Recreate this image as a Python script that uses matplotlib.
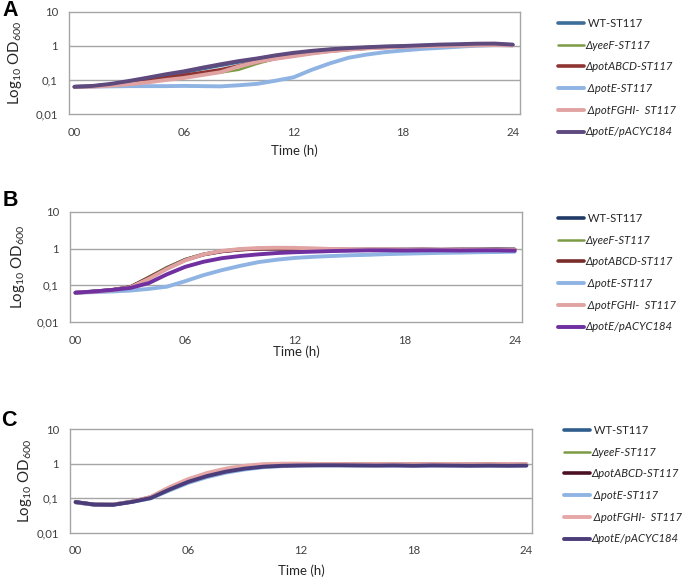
#!/usr/bin/env python3

from matplotlib import pyplot as plt

plt.rcParams['font.family'] = ['Lato', 'DejaVu Sans']
plt.rcParams['mathtext.fontset'] = 'custom'
plt.rcParams['mathtext.rm'] = 'Lato'

hours = list(range(25))
tick_hours = [0, 6, 12, 18, 24]
tick_labels = ['00', '06', '12', '18', '24']
od_ticks = [0.01, 0.1, 1, 10]
od_labels = ['0,01', '0,1', '1', '10']

strains = [' WT-ST117', '\u0394yeeF-ST117', '\u0394potABCD-ST117',
           ' \u0394potE-ST117', ' \u0394potFGHI-  ST117', '\u0394potE/pACYC184']

# panel A
a_wt = [0.063, 0.066, 0.074, 0.088, 0.108, 0.135, 0.17, 0.215, 0.27, 0.34, 0.42, 0.51, 0.6,
        0.7, 0.78, 0.85, 0.9, 0.95, 0.98, 1.02, 1.05, 1.08, 1.1, 1.12, 1.08]
a_yeef = [0.063, 0.065, 0.07, 0.08, 0.095, 0.112, 0.13, 0.15, 0.165, 0.2, 0.3, 0.42, 0.55,
          0.65, 0.75, 0.82, 0.88, 0.93, 0.97, 1.0, 1.03, 1.06, 1.08, 1.1, 1.06]
a_abcd = [0.063, 0.065, 0.071, 0.082, 0.097, 0.116, 0.138, 0.165, 0.2, 0.26, 0.34, 0.43, 0.52,
          0.62, 0.71, 0.79, 0.86, 0.91, 0.95, 0.99, 1.02, 1.05, 1.07, 1.09, 1.05]
a_pote = [0.064, 0.064, 0.065, 0.066, 0.066, 0.066, 0.067, 0.066, 0.065, 0.07, 0.077, 0.095, 0.12,
          0.2, 0.31, 0.45, 0.56, 0.66, 0.74, 0.82, 0.88, 0.95, 1.02, 1.06, 1.05]
a_fghi = [0.063, 0.064, 0.068, 0.075, 0.085, 0.1, 0.115, 0.14, 0.17, 0.25, 0.34, 0.42, 0.5,
          0.6, 0.7, 0.78, 0.85, 0.9, 0.95, 0.98, 1.0, 1.02, 1.05, 1.07, 1.05]
a_pacyc = [0.063, 0.067, 0.077, 0.094, 0.117, 0.147, 0.18, 0.23, 0.29, 0.36, 0.43, 0.53, 0.63,
           0.72, 0.8, 0.87, 0.92, 0.97, 1.0, 1.05, 1.1, 1.13, 1.17, 1.18, 1.1]

# panel B
b_wt = [0.063, 0.068, 0.075, 0.09, 0.16, 0.3, 0.5, 0.7, 0.85, 0.95, 1.0, 1.0, 0.98,
        0.96, 0.95, 0.94, 0.95, 0.94, 0.95, 0.95, 0.94, 0.95, 0.95, 0.96, 0.95]
b_yeef = [0.063, 0.068, 0.076, 0.092, 0.17, 0.31, 0.52, 0.72, 0.87, 0.96, 1.0, 1.01, 0.99,
          0.96, 0.95, 0.95, 0.94, 0.95, 0.95, 0.94, 0.95, 0.95, 0.96, 0.95, 0.96]
b_abcd = [0.063, 0.068, 0.075, 0.09, 0.16, 0.29, 0.49, 0.69, 0.84, 0.94, 0.99, 1.0, 0.98,
          0.96, 0.95, 0.94, 0.94, 0.95, 0.94, 0.95, 0.94, 0.95, 0.95, 0.95, 0.95]
b_pote = [0.063, 0.065, 0.068, 0.072, 0.08, 0.092, 0.13, 0.19, 0.26, 0.34, 0.43, 0.5, 0.56,
          0.6, 0.63, 0.66, 0.68, 0.71, 0.73, 0.75, 0.77, 0.78, 0.8, 0.81, 0.83]
b_fghi = [0.063, 0.067, 0.074, 0.088, 0.15, 0.28, 0.48, 0.7, 0.87, 0.98, 1.04, 1.06, 1.05,
          1.02, 0.98, 0.96, 0.95, 0.95, 0.94, 0.94, 0.93, 0.93, 0.93, 0.92, 0.92]
b_pacyc = [0.063, 0.068, 0.075, 0.085, 0.115, 0.2, 0.32, 0.44, 0.55, 0.63, 0.7, 0.76, 0.8,
           0.83, 0.86, 0.88, 0.9, 0.9, 0.89, 0.9, 0.9, 0.89, 0.9, 0.9, 0.88]

# panel C
c_wt = [0.078, 0.066, 0.066, 0.08, 0.105, 0.19, 0.32, 0.48, 0.64, 0.78, 0.88, 0.93, 0.94,
        0.93, 0.92, 0.92, 0.91, 0.92, 0.9, 0.92, 0.91, 0.9, 0.91, 0.9, 0.91]
c_yeef = [0.078, 0.067, 0.067, 0.081, 0.11, 0.21, 0.36, 0.54, 0.72, 0.86, 0.96, 1.0, 1.0,
          0.99, 1.0, 0.98, 1.0, 0.99, 0.99, 0.98, 1.0, 0.99, 1.0, 1.0, 0.99]
c_abcd = [0.078, 0.066, 0.066, 0.08, 0.108, 0.2, 0.34, 0.51, 0.68, 0.82, 0.92, 0.96, 0.97,
          0.96, 0.96, 0.95, 0.96, 0.95, 0.95, 0.96, 0.95, 0.95, 0.96, 0.95, 0.95]
c_pote = [0.076, 0.065, 0.066, 0.079, 0.1, 0.17, 0.28, 0.41, 0.55, 0.68, 0.79, 0.85, 0.88,
          0.89, 0.89, 0.88, 0.89, 0.88, 0.89, 0.88, 0.89, 0.89, 0.88, 0.89, 0.89]
c_fghi = [0.077, 0.066, 0.067, 0.081, 0.11, 0.21, 0.36, 0.54, 0.72, 0.87, 0.97, 1.0, 1.0,
          0.98, 0.98, 0.97, 0.98, 0.97, 0.97, 0.97, 0.98, 0.97, 0.97, 0.98, 0.97]
c_pacyc = [0.078, 0.066, 0.065, 0.079, 0.102, 0.18, 0.3, 0.44, 0.59, 0.72, 0.82, 0.87, 0.89,
           0.9, 0.9, 0.89, 0.88, 0.89, 0.87, 0.89, 0.88, 0.87, 0.88, 0.87, 0.88]

colors_a = ['#3d6d99', '#7d9a44', '#8e3433', '#8fb4e3', '#e0a3a2', '#5f4a7e']
colors_b = ['#1f3a66', '#7d9a44', '#7a2c2a', '#8fb4e3', '#e0a3a2', '#7030a0']
colors_c = ['#2f5d8c', '#7d9a44', '#4a1024', '#8fb4e3', '#e6a8a6', '#4b3c7a']
widths = [2.6, 1.8, 2.6, 2.8, 2.8, 2.8]


def plot_panel(fig, rect, letter, letter_xy, series, colors, legend_xy, xpad, ypad, xmax):
    ax = fig.add_axes(rect)
    lines = []
    for values, color, lw, label in zip(series, colors, widths, strains):
        ln, = ax.plot(hours, values, color=color, lw=lw, label=label,
                      solid_capstyle='round', solid_joinstyle='round')
        lines.append(ln)
    ax.set_yscale('log')
    ax.set_ylim(0.01, 10)
    ax.set_xlim(-0.3, xmax)
    ax.set_yticks(od_ticks)
    ax.set_yticklabels(od_labels)
    ax.minorticks_off()
    ax.set_xticks(tick_hours)
    ax.set_xticklabels(tick_labels)
    ax.tick_params(length=0, labelsize=8.2, colors='#404040')
    ax.tick_params(axis='x', pad=9)
    ax.tick_params(axis='y', pad=8)
    for y in [0.1, 1]:
        ax.axhline(y, color='#a6a6a6', lw=1.0, zorder=0)
    for sp in ax.spines.values():
        sp.set_color('#a6a6a6')
        sp.set_linewidth(1.0)
    ax.set_xlabel('Time (h)', fontsize=9.5, labelpad=xpad, color='#262626')
    ax.set_ylabel('Log$_{10}$ OD$_{600}$', fontsize=10.8, labelpad=ypad, color='#262626')
    fig.text(letter_xy[0] / 685, 1 - letter_xy[1] / 578, letter, fontsize=15.5,
             fontweight='bold', family='Liberation Sans', ha='center', va='center')
    leg = fig.legend(handles=lines, loc='upper left',
                     bbox_to_anchor=(legend_xy[0] / 685, 1 - legend_xy[1] / 578),
                     frameon=False, fontsize=8.1, handlelength=2.3, handletextpad=0.1,
                     labelspacing=0.95, borderpad=0, borderaxespad=0)
    for txt in leg.get_texts():
        txt.set_color('#262626')
        if '\u0394' in txt.get_text():
            txt.set_style('italic')
    return ax


fig = plt.figure(figsize=(6.85, 5.78), dpi=100)

plot_panel(fig, [69 / 685, 1 - 114 / 578, 451 / 685, 102 / 578], 'A', (10, 11),
           [a_wt, a_yeef, a_abcd, a_pote, a_fghi, a_pacyc], colors_a, (558, 18), 5, 8, 24.4)
plot_panel(fig, [70 / 685, 1 - 322 / 578, 452 / 685, 110 / 578], 'B', (10, 201),
           [b_wt, b_yeef, b_abcd, b_pote, b_fghi, b_pacyc], colors_b, (558, 213), 0, 7, 24.4)
plot_panel(fig, [70 / 685, 1 - 533 / 578, 462 / 685, 104 / 578], 'C', (9, 421),
           [c_wt, c_yeef, c_abcd, c_pote, c_fghi, c_pacyc], colors_c, (564, 425), 6, 2, 24.3)

fig.savefig('out.png', dpi=100)
